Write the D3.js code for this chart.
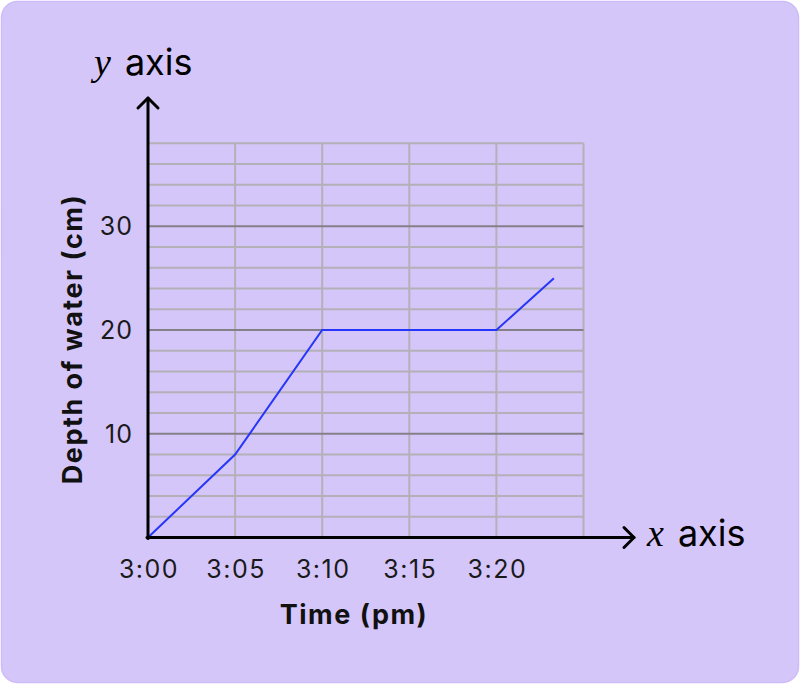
<!DOCTYPE html>
<html><head><meta charset="utf-8">
<script src="https://cdn.jsdelivr.net/npm/d3@7"></script>
<style>html,body{margin:0;padding:0;background:#fff}svg{display:block}</style>
</head><body>
<script>
const times = [0, 5, 10, 20, 23.3];          // minutes after 3:00 pm
const depths = [0, 8, 20, 20, 25];           // cm
const xTickValues = [0, 5, 10, 15, 20];
const xTickLabels = ["3:00", "3:05", "3:10", "3:15", "3:20"];
const yTickValues = [10, 20, 30];
const xTitle = "Time (pm)";
const yTitle = "Depth of water (cm)";

const W = 800, H = 684;
const font = "Inter, 'Open Sans', sans-serif";
const svg = d3.select("body").append("svg").attr("width", W).attr("height", H);

svg.append("rect").attr("x", 1.5).attr("y", 1.5).attr("width", W - 3).attr("height", H - 3)
  .attr("rx", 16).attr("fill", "#D5C6FA").attr("stroke", "#CDBCF7").attr("stroke-width", 1.5);

const x = d3.scaleLinear().domain([0, 25]).range([148, 583.5]);
const y = d3.scaleLinear().domain([0, 38]).range([537.5, 143.3]);

const g = svg.append("g");
g.selectAll(".vg").data(d3.range(5, 26, 5)).enter().append("line")
  .attr("x1", d => x(d)).attr("x2", d => x(d)).attr("y1", y(0)).attr("y2", y(38))
  .attr("stroke", "#B4B0B8").attr("stroke-width", 2);
g.selectAll(".hg").data(d3.range(2, 39, 2)).enter().append("line")
  .attr("x1", x(0)).attr("x2", x(25)).attr("y1", d => y(d)).attr("y2", d => y(d))
  .attr("stroke", d => d % 10 === 0 ? "#848088" : "#B4B0B8").attr("stroke-width", 2);

const line = d3.line().x((d, i) => x(times[i])).y(d => y(d));
svg.append("path").datum(depths).attr("d", line).attr("fill", "none")
  .attr("stroke", "#2636FA").attr("stroke-width", 2);

const ax = svg.append("g").attr("stroke", "#000").attr("stroke-width", 3).attr("fill", "none")
  .attr("stroke-linecap", "round").attr("stroke-linejoin", "round");
ax.append("line").attr("x1", x(0)).attr("x2", x(0)).attr("y1", y(0) + 1).attr("y2", 98);
ax.append("polyline").attr("points", `${x(0) - 10},${108} ${x(0)},${98} ${x(0) + 10},${108}`);
ax.append("line").attr("x1", x(0) - 1).attr("x2", 634).attr("y1", y(0)).attr("y2", y(0));
ax.append("polyline").attr("points", `${624},${y(0) - 10} ${634},${y(0)} ${624},${y(0) + 10}`);

svg.selectAll(".xt").data(xTickValues).enter().append("text")
  .attr("x", d => x(d) + 1).attr("y", 578).attr("text-anchor", "middle")
  .attr("font-family", font).attr("font-size", 25).attr("letter-spacing", 1.5).attr("fill", "#1a1a1a")
  .text((d, i) => xTickLabels[i]);
svg.selectAll(".yt").data(yTickValues).enter().append("text")
  .attr("x", 133).attr("y", d => y(d)).attr("dy", "0.36em").attr("text-anchor", "end")
  .attr("font-family", font).attr("font-size", 25).attr("letter-spacing", 1).attr("fill", "#1a1a1a")
  .text(d => d);

svg.append("text").attr("x", 354).attr("y", 624).attr("text-anchor", "middle")
  .attr("font-family", font).attr("font-weight", 700).attr("font-size", 27).attr("letter-spacing", 1.5).attr("fill", "#111")
  .text(xTitle);
svg.append("text").attr("transform", "translate(82,339) rotate(-90)").attr("text-anchor", "middle")
  .attr("font-family", font).attr("font-weight", 700).attr("font-size", 27).attr("letter-spacing", 1.5).attr("fill", "#111")
  .text(yTitle);

const yl = svg.append("text").attr("x", 94).attr("y", 75).attr("fill", "#000");
yl.append("tspan").attr("font-style", "italic").attr("font-family", "'Liberation Serif', serif").attr("font-size", 38).text("y");
yl.append("tspan").attr("font-family", font).attr("font-size", 36).attr("dx", 14).text("axis");
const xl = svg.append("text").attr("x", 647).attr("y", 546).attr("fill", "#000");
xl.append("tspan").attr("font-style", "italic").attr("font-family", "'Liberation Serif', serif").attr("font-size", 38).text("x");
xl.append("tspan").attr("font-family", font).attr("font-size", 36).attr("dx", 14).text("axis");
</script>
</body></html>
